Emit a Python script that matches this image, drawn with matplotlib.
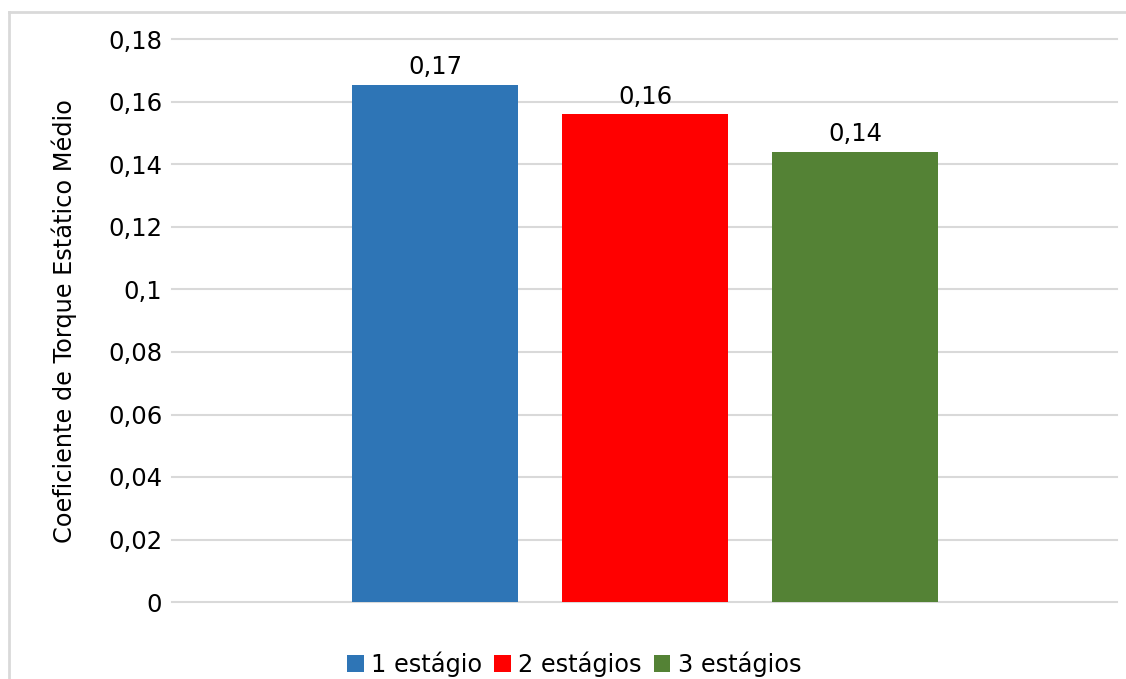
import matplotlib
matplotlib.use("Agg")
import matplotlib.pyplot as plt
from matplotlib.lines import Line2D
import numpy as np

# ── data ─────────────────────────────────────────────────────────────────────
series = ["1 estágio", "2 estágios", "3 estágios"]
values = [0.1655, 0.156, 0.144]
labels = ["0,17", "0,16", "0,14"]
colors = ["#2E75B6", "#FF0000", "#548235"]
yticks = [0, 0.02, 0.04, 0.06, 0.08, 0.1, 0.12, 0.14, 0.16, 0.18]
ytick_labels = ["0", "0,02", "0,04", "0,06", "0,08", "0,1", "0,12", "0,14", "0,16", "0,18"]

W, H = 1126, 679
fig = plt.figure(figsize=(W / 100, H / 100), dpi=100)
fig.patch.set_facecolor("white")

ax = fig.add_axes([172 / W, 1 - 602 / H, (1117 - 172) / W, (602 - 39.5) / H])

x = np.arange(len(series))
for i in range(len(series)):
    b = ax.bar(x[i], values[i], width=0.79, color=colors[i], label=series[i], zorder=3)
    ax.bar_label(b, labels=[labels[i]], padding=4, fontsize=17.5, color="#000000")

ax.set_xlim(-1.255, 3.248)
ax.set_ylim(0, 0.18)
ax.set_yticks(yticks)
ax.set_yticklabels(ytick_labels, fontsize=17.5)
ax.set_xticks([])
ax.tick_params(axis="y", length=0, pad=7)
ax.grid(axis="y", color="#D9D9D9", lw=1.5, zorder=0)
for gl in ax.get_ygridlines():
    gl.set_clip_on(False)
for s in ax.spines.values():
    s.set_visible(False)
ax.set_ylabel("Coeficiente de Torque Estático Médio", fontsize=17.3, labelpad=22)

# outer chart border (only left and top visible in the crop)
fig.add_artist(Line2D([9 / W, 9 / W], [0, 1 - 12 / H], color="#D9D9D9", lw=2))
fig.add_artist(Line2D([9 / W, 1], [1 - 12 / H, 1 - 12 / H], color="#D9D9D9", lw=2))

fig.legend(loc="center", bbox_to_anchor=(574 / W, 1 - 664 / H), ncol=3,
           frameon=False, fontsize=17.3, handlelength=0.7, handleheight=0.7,
           handletextpad=0.3, columnspacing=0.5)

plt.savefig("out.png", dpi=100, facecolor="white")
